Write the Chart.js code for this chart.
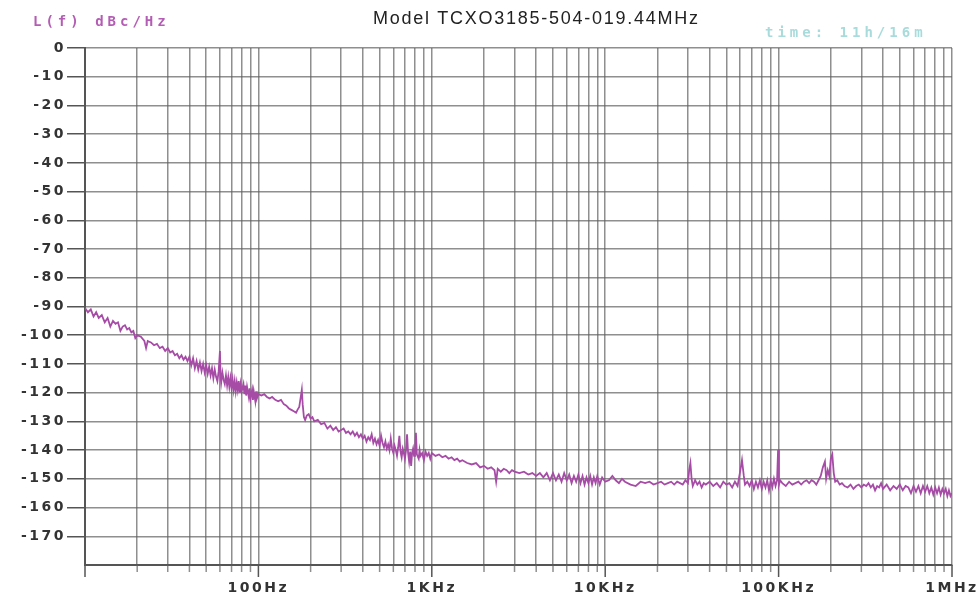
<!DOCTYPE html>
<html>
<head>
<meta charset="utf-8">
<script src="https://cdn.jsdelivr.net/npm/chart.js@4.4.1/dist/chart.umd.min.js"></script>
<style>
  body { margin: 0; background: #fff; }
  #wrap { position: relative; width: 979px; height: 601px; }
  .hdr { position: absolute; white-space: nowrap; line-height: 18px; }
  #lf { left: 33px; top: 13px; font: bold 14px "DejaVu Sans Mono", monospace; letter-spacing: 4px; color: #b45db4; }
  #title { left: 373px; top: 8px; font: 18px "Liberation Sans", Arial, sans-serif; letter-spacing: 1.75px; color: #222; }
  #time { left: 765px; top: 24px; font: bold 14px "DejaVu Sans Mono", monospace; letter-spacing: 4px; color: #a8dcdc; }
</style>
</head>
<body>
<div id="wrap">
  <canvas id="pnChart"></canvas>
  <div class="hdr" id="lf">L(f) dBc/Hz</div>
  <div class="hdr" id="title">Model TCXO3185-504-019.44MHz</div>
  <div class="hdr" id="time">time: 11h/16m</div>
</div>
<script>
const offsetFreqs = [
    10, 10.4, 10.8, 11.2, 11.6, 12, 12.5, 13, 13.5, 14, 14.5, 15, 15.5, 16, 16.5, 17, 17.5, 18, 18.5, 19, 19.5,
    20, 21, 22, 22.5, 23, 24, 25, 26, 27, 28, 29, 30, 31, 32, 33, 34, 35, 36, 37, 38, 39,
    40, 41, 42, 43, 44, 45, 46, 47, 48, 49, 50, 51, 52, 53, 54, 55, 56, 57, 58, 59, 60, 60.5,
    61, 62, 63, 64, 65, 66, 67, 68, 69, 70, 71, 72, 73, 74, 75, 76, 77, 78, 79, 80,
    82, 83, 84, 85, 86, 88, 89, 90, 92, 93, 94, 96, 97, 98, 100,
    104, 108, 112, 116, 120, 125, 130, 135, 140, 145, 150, 155, 160, 165, 168, 172, 175, 178, 180, 183, 186, 190, 195,
    200, 205, 210, 220, 230, 240, 250, 260, 270, 280, 290, 300, 310, 320, 330, 340, 350, 360, 370, 380, 390,
    400, 410, 420, 430, 440, 450, 460, 470, 480, 490, 500, 510, 520, 530, 540, 550, 560, 570, 580, 590,
    600, 610, 620, 630, 640, 650, 660, 670, 680, 690, 700, 710, 720, 730, 740, 750, 760, 770, 780, 790,
    800, 810, 820, 840, 850, 860, 880, 900, 920, 940, 960, 980, 1000,
    1050, 1100, 1150, 1200, 1250, 1300, 1350, 1400, 1450, 1500, 1600, 1700, 1800, 1900,
    2000, 2100, 2200, 2300, 2350, 2400, 2500, 2600, 2700, 2800, 2900, 3000, 3200, 3400, 3600, 3800,
    4000, 4200, 4400, 4600, 4800, 5000, 5200, 5400, 5600, 5800, 6000, 6200, 6400, 6600, 6800,
    7000, 7200, 7400, 7600, 7800, 8000, 8200, 8400, 8600, 8800, 9000, 9300, 9600, 10000,
    10500, 11000, 11500, 12000, 12500, 13000, 14000, 15000, 16000, 17000, 18000, 19000,
    20000, 21000, 22000, 23000, 24000, 25000, 26000, 27000, 28000, 29000, 30000, 30500, 31000, 31500,
    32000, 33000, 34000, 35000, 36000, 37000, 38000, 40000, 42000, 44000, 46000, 48000,
    50000, 52000, 54000, 56000, 58000, 60000, 61500, 63000, 64000, 66000, 68000,
    70000, 72000, 74000, 76000, 78000, 80000, 82000, 84000, 86000, 88000, 90000, 92000, 94000, 96000, 98000,
    99300, 100500, 102000, 105000, 110000, 115000, 120000, 125000, 130000, 135000, 140000, 145000,
    150000, 155000, 160000, 165000, 170000, 175000, 180000, 185000, 188000, 192000, 196000,
    200000, 204000, 208000, 212000, 218000, 225000, 232000, 240000, 250000, 260000, 270000, 280000, 290000,
    300000, 310000, 320000, 330000, 340000, 350000, 360000, 370000, 380000, 390000,
    400000, 420000, 440000, 460000, 480000, 500000, 520000, 540000, 560000, 580000,
    600000, 620000, 640000, 660000, 680000, 700000, 720000, 740000, 760000, 780000,
    800000, 820000, 840000, 860000, 880000, 900000, 920000, 940000, 960000, 980000, 1000000
];

const phaseNoise = [
    -90.5, -92, -91, -93.5, -92, -94, -93, -95.5, -94, -97, -95, -96, -95.5, -98.5, -97, -96.5, -98, -97.5, -99, -98.5, -101,
    -100, -100.5, -102, -104.5, -102, -102.5, -103.5, -103, -104.5, -104, -105.5, -104.5, -106, -105.5, -107, -106.5, -108, -107, -108.5, -107.5, -109,
    -107.5, -110.5, -108, -111.5, -109, -112, -109.5, -112.5, -110, -113, -110.5, -113.5, -111, -114, -111.5, -115, -112, -114.5, -116, -112.5, -105.5, -114.5,
    -116.5, -113, -115.5, -117, -114, -117.5, -114.5, -118, -115, -118.5, -115.5, -119, -116, -119.5, -116.5, -119, -116, -120, -117, -119.5,
    -117, -120.5, -117.5, -121, -118, -121.5, -118.5, -122, -119, -122.5, -119.5, -123, -119.5, -122, -120.5,
    -121, -120.5, -121.5, -122, -121.5, -122.5, -123, -122.5, -124, -124.5, -125.5, -126, -126.5, -127, -126, -125, -122, -119, -124, -128.5, -129.5, -128, -127.5,
    -129, -128.5, -130, -129.5, -131, -130.5, -132.5, -131.5, -133, -132, -133.5, -133, -132.5, -134, -133.5, -134.5, -133.5, -135, -134, -135.5, -134.5,
    -136, -135, -137, -135.5, -136.5, -134.5, -137.5, -136, -138, -136.5, -138.5, -135, -137.5, -139, -137, -139.5, -138, -140, -136, -139.5,
    -141, -138.5, -140, -142, -139, -135, -140.5, -142.5, -139.5, -141, -143, -140, -134.5, -141, -144, -140.5, -145.5, -141, -139.5, -142,
    -140.5, -134, -141.5, -143, -140, -142, -141, -143.5, -140.5, -142, -141, -143, -141,
    -142, -141.5, -142.5, -142, -143, -142.5, -143.5, -143, -144, -143.5, -144.5, -145, -144.5, -146,
    -145.5, -146.5, -146, -147, -151, -146.5, -147.5, -146.5, -147, -148, -147, -147.5, -148, -147.5, -148.5, -148,
    -149, -148, -149.5, -148, -150.5, -148, -150.5, -148.5, -151, -148, -150.5, -148.5, -151.5, -149, -151,
    -148.5, -151.5, -149, -152, -149.5, -151.5, -149, -152, -149.5, -151.5, -149, -152, -149.5, -151,
    -150.5, -149, -150.5, -151.5, -150, -151, -152, -152.5, -151, -151.5, -151, -152,
    -151.5, -151, -152, -151.5, -151, -152, -151, -151.5, -152, -150.5, -151.5, -147, -144.5, -150,
    -152.5, -150.5, -152, -151, -153, -151.5, -152, -151, -152.5, -151.5, -153, -151,
    -152, -151.5, -153, -151, -152.5, -147.5, -143.5, -149, -152, -151, -152.5,
    -150.5, -153.5, -151, -153, -150.5, -153.5, -151, -153, -150.5, -154, -150.5, -153, -150, -152.5, -150.5,
    -140, -152, -150.5, -151.5, -152.5, -151, -152, -151.5, -151, -152, -151, -150.5,
    -151.5, -150.5, -151, -152, -150.5, -149, -146, -144, -150, -147, -149,
    -143, -141.5, -148, -151, -150.5, -152, -151.5, -152.5, -153, -152, -153.5, -152.5, -152,
    -153, -152, -152.5, -151.5, -153, -152, -154, -152.5, -153, -151.5,
    -153.5, -152, -154, -152.5, -153.5, -152, -154, -152.5, -153, -155,
    -152.5, -154.5, -152.5, -155, -152.5, -154.5, -152.5, -155, -153, -155.5,
    -153, -155, -153, -155.5, -153.5, -155, -153.5, -156, -154, -156, -155
];

// axis setup
const decades = [10, 100, 1000, 10000, 100000, 1000000];
const gridMultipliers = [1, 2, 3, 4, 5, 6, 7, 8, 9];
const xTickLabels = { 100: '100Hz', 1000: '1KHz', 10000: '10KHz', 100000: '100KHz', 1000000: '1MHz' };
const yMin = -180, yMax = 0, yStep = 10;

document.addEventListener('DOMContentLoaded', function () {
    const points = offsetFreqs.map((f, i) => ({ x: f, y: phaseNoise[i] }));

    const xGrid = [];
    decades.slice(0, -1).forEach(d => gridMultipliers.forEach(m => xGrid.push(d * m)));
    xGrid.push(decades[decades.length - 1]);

    const tickFont = { family: 'DejaVu Sans', weight: 'bold', size: 14 };
    const gridColor = 'rgba(95,95,95,0.7)';
    const clear = 'rgba(0,0,0,0)';

    // wide "bitmap" look for the axis numbers
    const spacing = {
        id: 'spacing',
        beforeLayout(chart) { chart.ctx.letterSpacing = '2.5px'; },
        beforeDraw(chart) { chart.ctx.letterSpacing = '2.5px'; }
    };

    // tick marks under the x axis: short ones, longer at each decade
    const xTickMarks = {
        id: 'xTickMarks',
        afterDraw(chart) {
            const x = chart.scales.x, ctx = chart.ctx, b = chart.chartArea.bottom;
            ctx.save();
            ctx.lineWidth = 1.5;
            xGrid.forEach(v => {
                const major = decades.includes(v);
                const px = x.getPixelForValue(v);
                ctx.strokeStyle = major ? '#555' : gridColor;
                ctx.beginPath();
                ctx.moveTo(px, b);
                ctx.lineTo(px, b + (major ? 12 : 7));
                ctx.stroke();
            });
            ctx.restore();
        }
    };

    new Chart(document.getElementById('pnChart'), {
        type: 'line',
        data: {
            datasets: [{
                data: points,
                borderColor: '#a64ca6',
                borderWidth: 1.8,
                pointRadius: 0,
                tension: 0
            }]
        },
        options: {
            responsive: true,
            maintainAspectRatio: false,
            animation: false,
            layout: { padding: { top: 48, right: 27, left: 0, bottom: 0 } },
            plugins: { legend: { display: false }, tooltip: { enabled: false } },
            scales: {
                x: {
                    type: 'logarithmic',
                    min: 10,
                    max: 1000000,
                    afterBuildTicks: s => { s.ticks = xGrid.map(v => ({ value: v })); },
                    afterFit: s => { s.height = 36; },
                    grid: { color: gridColor, lineWidth: 1.5, tickLength: 15, tickColor: clear },
                    border: { color: '#555', width: 2 },
                    ticks: {
                        autoSkip: false,
                        maxRotation: 0,
                        padding: 0,
                        color: '#333',
                        font: tickFont,
                        callback: v => xTickLabels[v] || ''
                    }
                },
                y: {
                    min: yMin,
                    max: yMax,
                    afterFit: s => { s.width = 85; },
                    grid: {
                        color: c => c.tick && c.tick.value === yMin ? clear : gridColor,
                        tickColor: c => c.tick && c.tick.value === yMin ? clear : '#555',
                        lineWidth: 1.5,
                        tickLength: 18
                    },
                    border: { color: '#555', width: 2 },
                    ticks: {
                        stepSize: yStep,
                        padding: 1,
                        color: '#333',
                        font: tickFont,
                        callback: v => v === yMin ? '' : v
                    }
                }
            }
        },
        plugins: [spacing, xTickMarks]
    });
});
</script>
</body>
</html>
